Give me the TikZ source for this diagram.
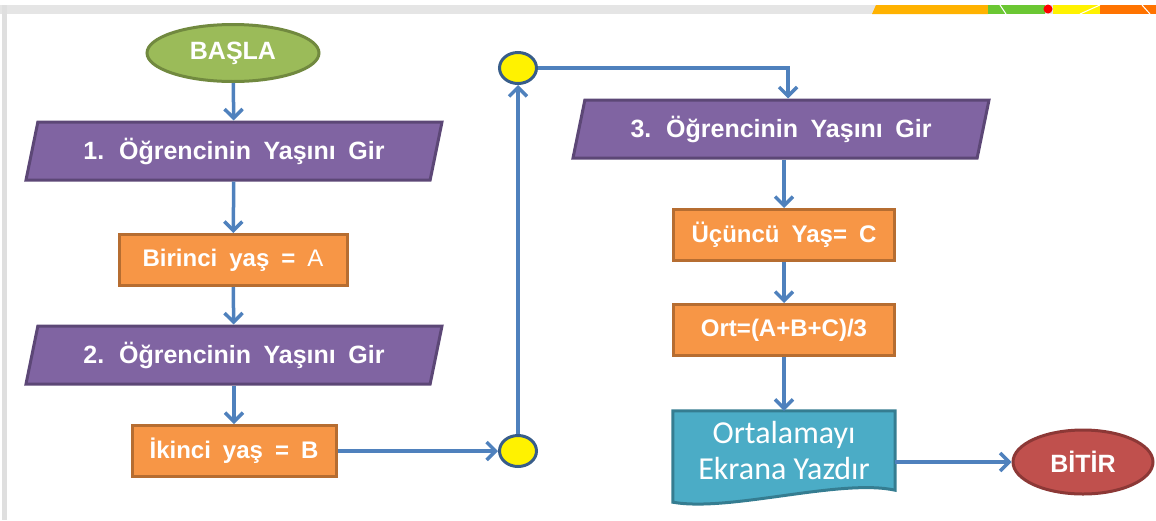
\documentclass[tikz,border=0pt]{standalone}
\usepackage{fontspec}
\setmainfont{Liberation Sans}
\newfontfamily\calfont{Carlito}
\usetikzlibrary{arrows.meta,shapes.geometric,backgrounds}
\definecolor{lineblue}{HTML}{4F81BD}
\definecolor{ringblue}{HTML}{385D8A}
\definecolor{startgreen}{HTML}{9BBB59}
\definecolor{startedge}{HTML}{71893F}
\definecolor{endred}{HTML}{C0504D}
\definecolor{endedge}{HTML}{8C3836}
\definecolor{inpurple}{HTML}{8064A2}
\definecolor{inedge}{HTML}{5C4776}
\definecolor{procorange}{HTML}{F79646}
\definecolor{procedge}{HTML}{B66D31}
\definecolor{outteal}{HTML}{4BACC6}
\definecolor{outedge}{HTML}{357D91}
\newcommand{\boxfont}{\fontsize{24}{28}\selectfont\bfseries\spaceskip=0.5em}
\newcommand{\bigboxfont}{\fontsize{25}{29}\selectfont\bfseries\spaceskip=0.5em}

\begin{document}
\begin{tikzpicture}[x=1pt,y=-1pt,
  every node/.style={text=white,font=\boxfont,inner sep=0pt},
  terminal/.style={ellipse,font=\bigboxfont,line width=3pt,minimum width=172pt,minimum height=57pt},
  inputbox/.style={trapezium,trapezium left angle=66,trapezium right angle=114,
    trapezium stretches body,fill=inpurple,draw=inedge,line width=3pt,font=\bigboxfont,
    minimum width=416pt,minimum height=58pt},
  procbox/.style={rectangle,fill=procorange,draw=procedge,line width=3pt,minimum height=51pt},
  joint/.style={ellipse,fill=yellow,draw=ringblue,line width=3pt,minimum width=37pt,minimum height=31pt},
  flow/.style={draw=lineblue,line width=3.5pt,-{Straight Barb[length=9pt,width=18pt,line width=3.5pt]}}]
  % slide frame
  \useasboundingbox (0,0) rectangle (1156,520);
  \fill[gray!20] (0,5) rectangle (1156,14);
  \fill[gray!25] (2,5) rectangle (7,520);
  \fill[orange!60!yellow] (876,5) -- (988,5) -- (988,14) -- (872,14) -- cycle;
  \fill[green!45!olive!80] (988,5) rectangle (1045,14);
  \fill[red] (1048,9) circle (4.5);
  \fill[yellow] (1053,5) rectangle (1100,14);
  \fill[orange!90!red] (1100,5) rectangle (1156,14);
  \draw[white,line width=1pt] (1000,5) -- (1006,14) (1080,14) -- (1100,5) (1142,5) -- (1150,14);

  % left column
  \node[terminal,fill=startgreen,draw=startedge] (basla) at (233,53) {BAŞLA};
  \node[inputbox] (gir1) at (234,151) {1. Öğrencinin Yaşını Gir};
  \node[procbox,minimum width=228pt] (yasA) at (233,260) {Birinci yaş = \mdseries A};
  \node[inputbox] (gir2) at (234,355) {2. Öğrencinin Yaşını Gir};
  \node[procbox,minimum width=204pt] (yasB) at (234,451) {İkinci yaş = B};

  % connectors between the columns
  \node[joint] (altnokta) at (518,451) {};
  \node[joint] (ustnokta) at (518,68) {};

  % right column
  \node[inputbox] (gir3) at (781,129) {3. Öğrencinin Yaşını Gir};
  \node[procbox,minimum width=221pt] (yasC) at (784,235) {Üçüncü Yaş= C};
  \node[procbox,minimum width=221pt] (ort) at (784,330) {Ort=(A+B+C)/3};
  \node[minimum width=222pt,minimum height=79pt,align=center,
    font=\calfont\fontsize{32}{36}\selectfont] (yazdir) at (784,450.5) {Ortalamayı\\Ekrana Yazdır};
  \node[terminal,fill=endred,draw=endedge,minimum width=140pt,minimum height=64pt] (bitir) at (1083,462) {BİTİR};
  \begin{scope}[on background layer]
    \draw[fill=outteal,draw=outedge,line width=3pt] (yazdir.north west) -- (yazdir.north east)
      -- (yazdir.south east) .. controls +(-55,-12) and +(57,10) .. ([yshift=-12pt]yazdir.south west) -- cycle;
  \end{scope}

  \draw[flow] (basla) -- (gir1);
  \draw[flow] (gir1) -- (yasA);
  \draw[flow] (yasA) -- (gir2);
  \draw[flow] (gir2) -- (yasB);
  \draw[flow] (yasB) -- (altnokta);
  \draw[flow] (altnokta) -- (ustnokta);
  \draw[flow] (ustnokta) -| ([xshift=7pt]gir3.north);
  \draw[flow] (gir3.south -| yasC) -- (yasC);
  \draw[flow] (yasC) -- (ort);
  \draw[flow] (ort) -- (yazdir);
  \draw[flow] (yazdir.east |- bitir) -- (bitir);
\end{tikzpicture}
\end{document}
